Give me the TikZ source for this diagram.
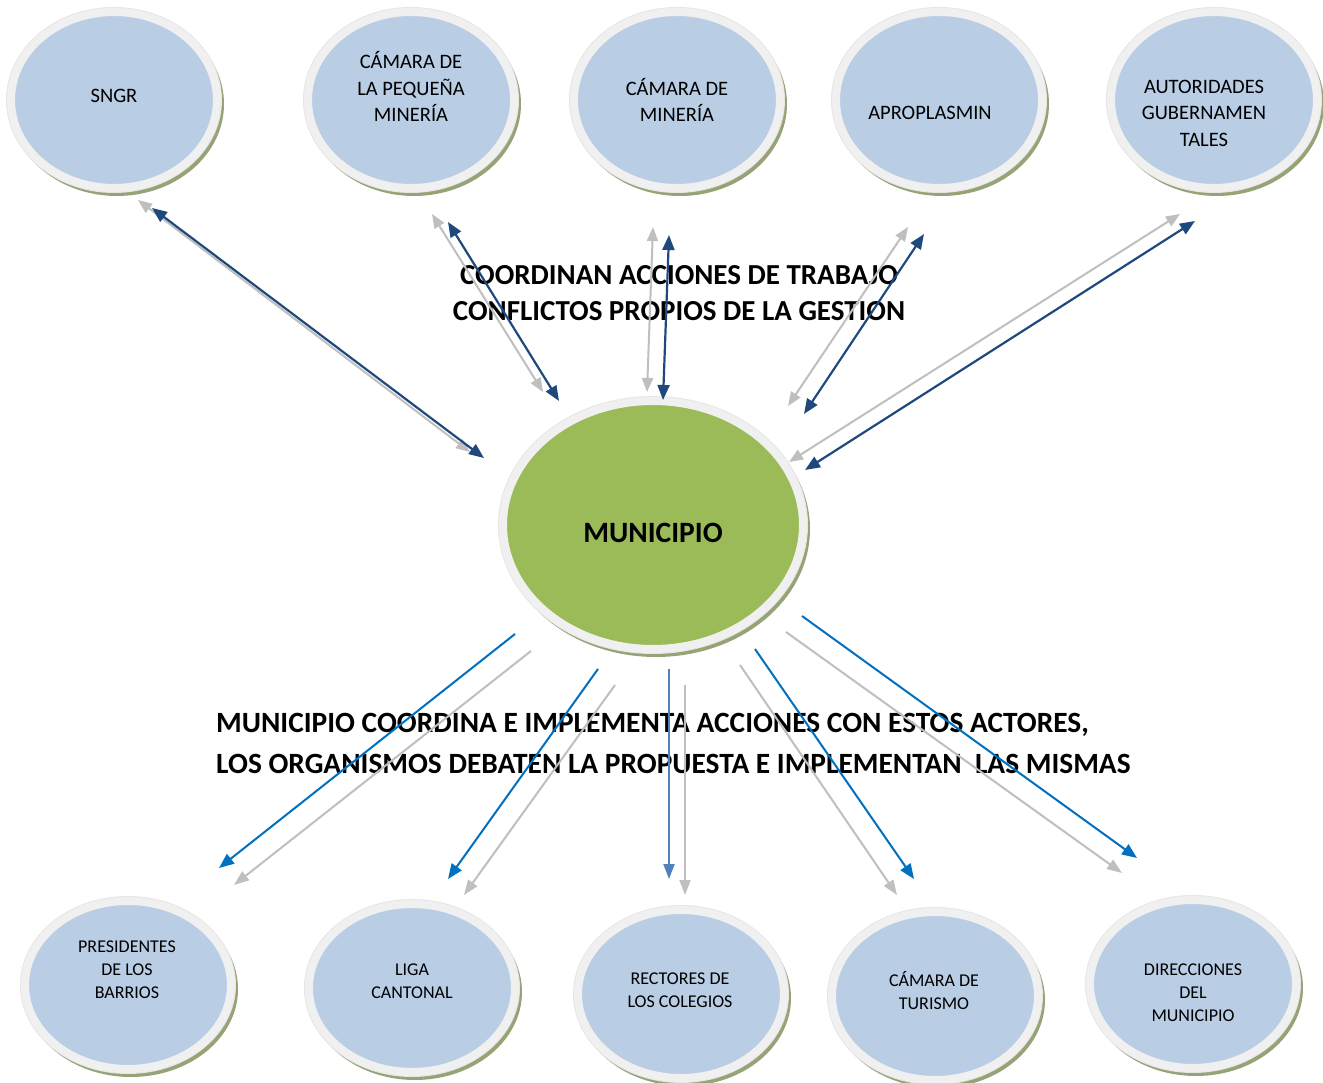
\documentclass[tikz,border=0pt]{standalone}
\usepackage{fontspec}
\setmainfont{Carlito}
\usetikzlibrary{arrows.meta,calc,shapes.geometric}
\definecolor{ringc}{RGB}{240,240,240}
\definecolor{ringedge}{RGB}{230,230,230}
\definecolor{bluefill}{RGB}{185,205,229}
\definecolor{greenfill}{RGB}{155,187,89}
\definecolor{shadowc}{RGB}{150,163,118}
\definecolor{darkblue}{RGB}{31,73,125}
\definecolor{midblue}{RGB}{0,112,192}
\definecolor{softblue}{RGB}{79,129,189}
\definecolor{grayarr}{RGB}{191,191,191}
\newcommand\mkactor[6]{%
  \fill[shadowc] (#2+3,#3+4) ellipse [x radius=#4pt+8pt, y radius=#5pt+8pt];
  \fill[ringedge] (#2,#3) ellipse [x radius=#4pt+9pt, y radius=#5pt+9pt];
  \node[ellipse, inner sep=0pt, fill=#6, draw=ringc, line width=8pt,
        minimum width=2*#4pt+8pt, minimum height=2*#5pt+8pt] (#1) at (#2,#3) {};
}
\begin{document}
\begin{tikzpicture}[x=1pt,y=-1pt,
  toplab/.style={align=center, font=\fontsize{20.5}{26.5}\selectfont, inner sep=0pt},
  botlab/.style={align=center, font=\fontsize{18}{23}\selectfont, inner sep=0pt},
  headlab/.style={inner sep=0pt, font=\fontsize{29}{36}\selectfont\bfseries},
  bidark/.style={draw=darkblue, line width=2.2pt, {Triangle[length=15pt,width=12pt]}-{Triangle[length=15pt,width=12pt]}},
  bigray/.style={draw=grayarr, line width=2pt, {Triangle[length=14pt,width=11pt]}-{Triangle[length=14pt,width=11pt]}},
  outblue/.style={draw=midblue, line width=2pt, -{Triangle[length=15pt,width=12pt]}},
  outsoft/.style={draw=softblue, line width=2pt, -{Triangle[length=15pt,width=11pt]}},
  outgray/.style={draw=grayarr, line width=2pt, -{Triangle[length=15pt,width=11pt]}}
]
\useasboundingbox[fill=white] (0,0) rectangle (1323,1083);

% top actors
\mkactor{sngr}{114}{100}{99}{84}{bluefill}
\mkactor{pequena}{411}{100}{99}{84}{bluefill}
\mkactor{mineria}{677}{100}{99}{84}{bluefill}
\mkactor{aprop}{939}{100}{99}{84}{bluefill}
\mkactor{autor}{1214}{100}{99}{84}{bluefill}
% centre
\mkactor{muni}{653}{525}{146}{120}{greenfill}
% bottom actors
\mkactor{pres}{128}{985}{99}{80}{bluefill}
\mkactor{liga}{412}{988}{99}{80}{bluefill}
\mkactor{rect}{681}{994}{99}{80}{bluefill}
\mkactor{turis}{935}{996}{99}{80}{bluefill}
\mkactor{direc}{1193}{984}{99}{80}{bluefill}

% labels
\node[toplab] (tsngr) at (114,96) {SNGR};
\node[toplab] (tpeq) at (411,86.5) {CÁMARA DE\\LA PEQUEÑA\\MINERÍA};
\node[toplab] (tmin) at (677,100) {CÁMARA DE\\MINERÍA};
\node[toplab] (tapr) at (930,113) {APROPLASMIN};
\node[toplab] (taut) at (1204,113) {AUTORIDADES\\GUBERNAMEN\\TALES};
\node[inner sep=0pt, font=\fontsize{29.5}{31}\selectfont\bfseries] (tmuni) at (653,533) {MUNICIPIO};
\node[botlab] (tpres) at (127,970) {PRESIDENTES\\DE LOS\\BARRIOS};
\node[botlab] (tliga) at (412,981.5) {LIGA\\CANTONAL};
\node[botlab] (trect) at (680,990.5) {RECTORES DE\\LOS COLEGIOS};
\node[botlab] (ttur) at (934,990.5) {CÁMARA DE\\TURISMO};
\node[botlab] (tdir) at (1193,993) {DIRECCIONES\\DEL\\MUNICIPIO};

% headings
\node[headlab, align=center, font=\fontsize{29}{36}\selectfont\bfseries] (head1) at (679,293) {COORDINAN ACCIONES DE TRABAJO\\CONFLICTOS PROPIOS DE LA GESTION};
\node[headlab, align=left, anchor=west, font=\fontsize{29.4}{41}\selectfont\bfseries] (head2) at (216,743) {MUNICIPIO COORDINA E IMPLEMENTA ACCIONES CON ESTOS ACTORES,\\LOS ORGANISMOS DEBATEN LA PROPUESTA E IMPLEMENTAN~ LAS MISMAS};

% arrow end points
\coordinate (a1g1) at (138,200); \coordinate (a1g2) at (470,452);
\coordinate (a1b1) at (152,208); \coordinate (a1b2) at (484,458);
\coordinate (a2g1) at (432,214); \coordinate (a2g2) at (543,392);
\coordinate (a2b1) at (448,222); \coordinate (a2b2) at (559,401);
\coordinate (a3g1) at (653,227); \coordinate (a3g2) at (647,392);
\coordinate (a3b1) at (669,235); \coordinate (a3b2) at (663,400);
\coordinate (a4g1) at (908,227); \coordinate (a4g2) at (788,406);
\coordinate (a4b1) at (924,234); \coordinate (a4b2) at (804,414);
\coordinate (a5g1) at (1180,214); \coordinate (a5g2) at (789,462);
\coordinate (a5b1) at (1195,221); \coordinate (a5b2) at (805,470);

\coordinate (b1b1) at (515,634); \coordinate (b1b2) at (219,868);
\coordinate (b1g1) at (531,651); \coordinate (b1g2) at (234,885);
\coordinate (b2b1) at (598,669); \coordinate (b2b2) at (448,879);
\coordinate (b2g1) at (615,685); \coordinate (b2g2) at (464,895);
\coordinate (b3b1) at (669,669); \coordinate (b3b2) at (669,879);
\coordinate (b3g1) at (685,685); \coordinate (b3g2) at (685,895);
\coordinate (b4b1) at (755,649); \coordinate (b4b2) at (914,879);
\coordinate (b4g1) at (740,665); \coordinate (b4g2) at (897,895);
\coordinate (b5b1) at (802,616); \coordinate (b5b2) at (1137,858);
\coordinate (b5g1) at (786,632); \coordinate (b5g2) at (1122,873);

% top double arrows
\foreach \i in {1,...,5} {
  \draw[bigray] (a\i g1) -- (a\i g2);
  \draw[bidark] (a\i b1) -- (a\i b2);
}
% bottom arrows
\foreach \i in {1,2,4,5} {
  \draw[outgray] (b\i g1) -- (b\i g2);
  \draw[outblue] (b\i b1) -- (b\i b2);
}
\draw[outgray] (b3g1) -- (b3g2);
\draw[outsoft] (b3b1) -- (b3b2);
\end{tikzpicture}
\end{document}
